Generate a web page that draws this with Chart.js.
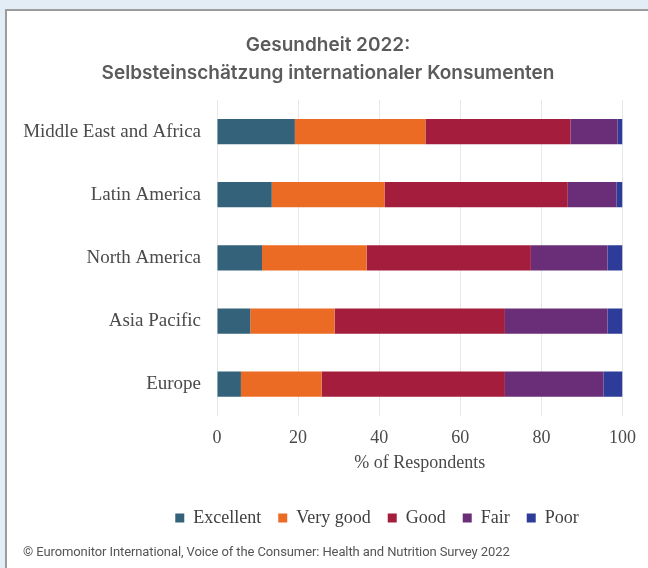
<!DOCTYPE html>
<html>
<head>
<meta charset="utf-8">
<script src="https://cdn.jsdelivr.net/npm/chart.js@4"></script>
<style>
body { margin: 0; background: #e2edf6; width: 648px; height: 568px; overflow: hidden; position: relative; }
#card { position: absolute; left: 5px; top: 9px; right: 0; bottom: 0; background: #fff; border-left: 2px solid #9c9c9c; border-top: 2px solid #9c9c9c; }
#myChart { position: absolute; left: 0; top: 0; }
#source { position: absolute; left: 23px; top: 544px; font: 13px Roboto, sans-serif; color: #555; letter-spacing: -0.1px; white-space: nowrap; }
</style>
</head>
<body>
<div id="card"></div>
<canvas id="myChart" width="648" height="568"></canvas>
<div id="source">© Euromonitor International, Voice of the Consumer: Health and Nutrition Survey 2022</div>
<script>
const regions = ['Middle East and Africa', 'Latin America', 'North America', 'Asia Pacific', 'Europe'];
const excellent = [19.2, 13.5, 11.1, 8.2, 5.9];
const veryGood = [32.2, 27.8, 25.8, 20.8, 19.9];
const good = [35.8, 45.2, 40.5, 42.0, 45.2];
const fair = [11.6, 12.0, 18.9, 25.3, 24.3];
const poor = [1.2, 1.5, 3.7, 3.7, 4.7];
const xTicks = [0, 20, 40, 60, 80, 100];

const serif = "'Liberation Serif', 'DejaVu Serif', serif";

function bar(label, values, color) {
return {
label: label,
data: values,
backgroundColor: color,
borderWidth: 0,
barPercentage: 0.4,
categoryPercentage: 1
};
}

// nudge legend and title to where the original has them
const boxShift = {
id: 'boxShift',
afterLayout(chart) {
const lg = chart.legend;
lg.left += 65; lg.right += 65;
lg.top += 14; lg.bottom += 14;
const t = chart.titleBlock;
t.left += 16; t.right += 16;
}
};

const config = {
type: 'bar',
data: {
labels: regions,
datasets: [
bar('Excellent', excellent, '#33627a'),
bar('Very good', veryGood, '#ec6b24'),
bar('Good', good, '#a51d3c'),
bar('Fair', fair, '#6a2e78'),
bar('Poor', poor, '#2c3c98')
]
},
options: {
indexAxis: 'y',
responsive: false,
animation: false,
layout: { padding: { top: 31, right: 24, bottom: 45, left: 0 } },
plugins: {
title: {
display: true,
text: ['Gesundheit 2022:', 'Selbsteinschätzung internationaler Konsumenten'],
color: '#5b5b5b',
font: { family: 'Inter', size: 19, weight: '600', lineHeight: 1.5 },
padding: { top: 0, bottom: 12 }
},
legend: {
position: 'bottom',
labels: {
color: '#404040',
font: { family: serif, size: 18 },
boxWidth: 9,
boxHeight: 9,
padding: 17
}
},
tooltip: { enabled: false }
},
scales: {
x: {
stacked: true,
min: 0,
max: 100,
afterBuildTicks: (scale) => { scale.ticks = xTicks.map(v => ({ value: v })); },
ticks: {
color: '#4a4a4a',
font: { family: serif, size: 18 },
padding: 12
},
grid: { color: '#e8e8e8', drawTicks: false },
border: { display: false },
title: {
display: true,
text: '% of Respondents',
color: '#4a4a4a',
font: { family: serif, size: 18 },
padding: { top: -9, bottom: 4 }
}
},
y: {
stacked: true,
afterFit: (scale) => { scale.width = 217; },
ticks: {
color: '#4a4a4a',
font: { family: serif, size: 19 },
padding: 8
},
grid: { display: false },
border: { display: false }
}
}
},
plugins: [boxShift]
};

const myChart = new Chart(document.getElementById('myChart'), config);
</script>
</body>
</html>
